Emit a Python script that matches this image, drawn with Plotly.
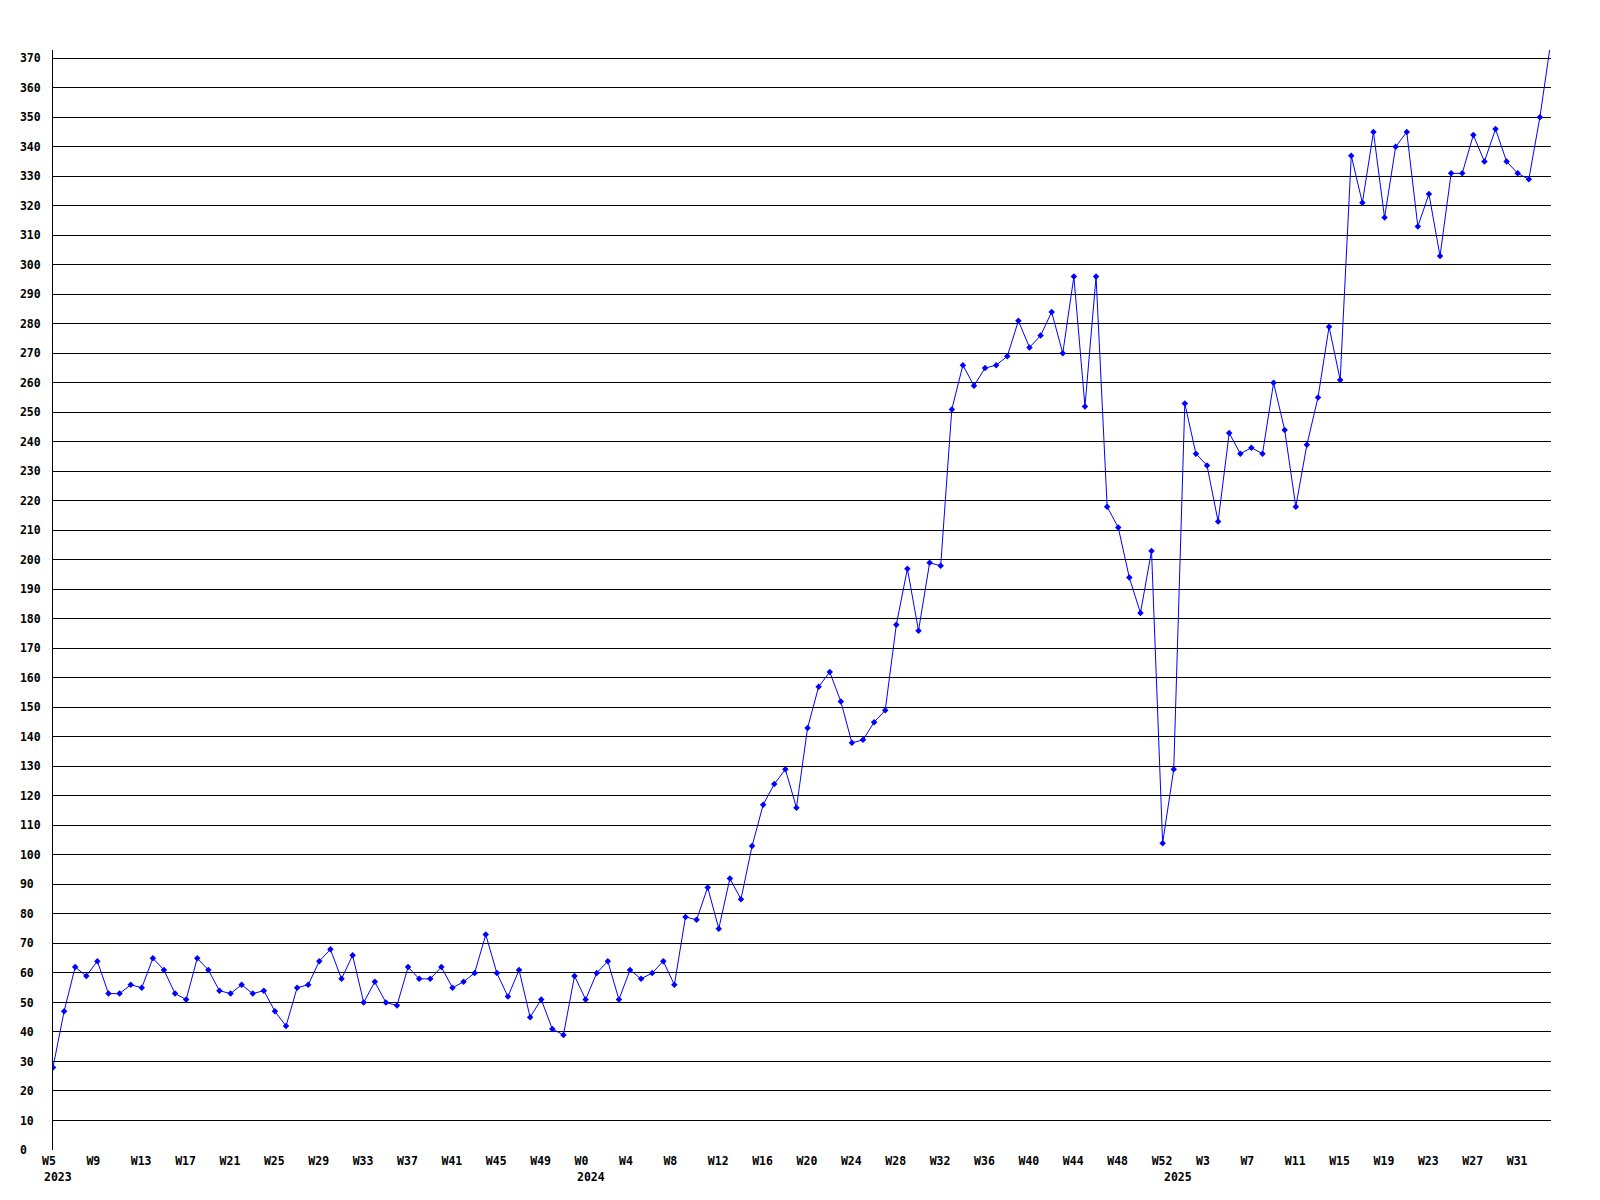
import plotly.graph_objects as go

# Weekly counts, first point = W5 2023, one value per week
values = [
    28, 47, 62, 59, 64, 53, 53, 56, 55, 65, 61, 53, 51, 65, 61, 54, 53, 56, 53, 54,
    47, 42, 55, 56, 64, 68, 58, 66,
    50, 57, 50, 49, 62, 58, 58, 62, 55, 57, 60, 73, 60, 52, 61, 45, 51, 41, 39, 59,
    51, 60, 64, 51, 61, 58, 60, 64, 56, 79,
    78, 89, 75, 92, 85, 103, 117, 124, 129, 116, 143, 157, 162, 152, 138,
    139, 145, 149, 178, 197, 176, 199, 198, 251, 266, 259, 265, 266, 269,
    281, 272, 276, 284, 270, 296, 252, 296, 218, 211, 194,
    182, 203, 104, 129, 253, 236, 232, 213, 243, 236, 238, 236, 260,
    244, 218, 239, 255, 279, 261, 337, 321, 345, 316, 340, 345, 313,
    324, 303, 331, 331, 344, 335, 346, 335, 331, 329, 350, 376,
]

# x tick labels (every 4th week)
week_labels = ["W5", "W9", "W13", "W17", "W21", "W25", "W29", "W33", "W37", "W41",
               "W45", "W49", "W0", "W4", "W8", "W12", "W16", "W20", "W24", "W28",
               "W32", "W36", "W40", "W44", "W48", "W52", "W3", "W7", "W11", "W15",
               "W19", "W23", "W27", "W31"]
week_label_positions = [0, 4, 8, 12, 16, 20, 24, 28, 32, 36, 40, 44, 48, 52, 56, 60,
                        64, 68, 72, 76, 80, 84, 88, 92, 96, 100, 104, 108, 112, 116,
                        120, 124, 128, 132]

year_labels = ["2023", "2024", "2025"]
year_label_positions = [0, 48, 100.9]

y_tick_values = list(range(0, 371, 10))
y_tick_labels = [str(v).ljust(3).replace(" ", "\u00a0") for v in y_tick_values]

x = list(range(len(values)))

FONT = dict(family="DejaVu Sans Mono", size=11.5, color="black", weight="bold")

fig = go.Figure()
fig.add_trace(go.Scatter(
    x=x, y=values, mode="lines+markers",
    line=dict(color="#0000ff", width=1),
    marker=dict(symbol="diamond", size=5, color="#0000ff"),
    hoverinfo="x+y",
))

annotations = []
for lab, pos in zip(year_labels, year_label_positions):
    annotations.append(dict(
        x=pos, y=0, xref="x", yref="paper", text=lab, showarrow=False,
        xanchor="left", yanchor="middle", xshift=-11, yshift=-27,
        font=FONT,
    ))

fig.update_layout(
    width=1600, height=1200,
    margin=dict(l=40, r=57, t=42, b=58),
    paper_bgcolor="white", plot_bgcolor="white",
    showlegend=False,
    font=FONT,
    annotations=annotations,
    xaxis=dict(
        range=[0, len(values) - 1],
        tickmode="array", tickvals=week_label_positions, ticktext=week_labels,
        ticklabelposition="outside right", ticklabelshift=-11,
        tickangle=0, ticks="", showgrid=False, zeroline=False,
        showline=False, tickfont=FONT, ticklabelstandoff=2,
    ),
    yaxis=dict(
        range=[0, 372.8],
        tickmode="array", tickvals=y_tick_values, ticktext=y_tick_labels,
        ticks="", showgrid=True, gridcolor="black", gridwidth=1,
        zeroline=False, showline=True, linecolor="black", linewidth=1,
        tickfont=FONT, ticklabelstandoff=9,
    ),
)

fig.write_html("out.html")
